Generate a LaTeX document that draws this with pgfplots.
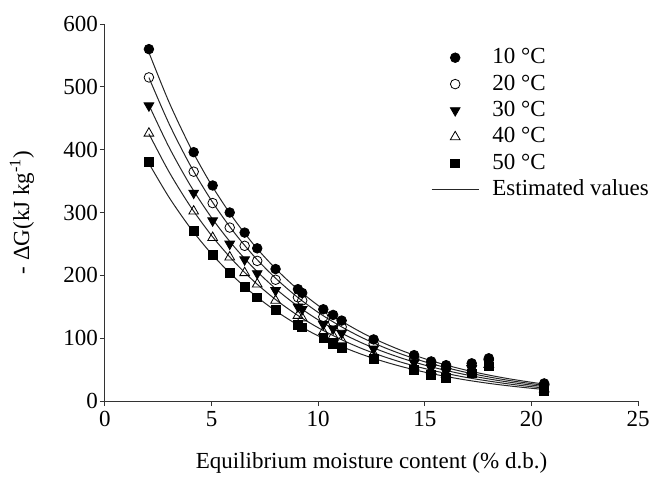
\documentclass[border=0pt]{standalone}
\usepackage{pgfplots}
\pgfplotsset{compat=1.18}
\usepackage{fontspec}
\setmainfont{Liberation Serif}

\newcommand{\chartfont}{\fontsize{11.5}{13.5}\selectfont}

% Gibbs free energy vs equilibrium moisture content
\pgfplotstableread{
x     t10  t20  t30  t40  t50
2.06  560  515  470  426  380
4.16  396  365  331  302  271
5.05  343  315  287  260  232
5.85  300  276  250  229  204
6.55  268  247  225  204  182
7.14  243  223  203  186  165
8.00  210  193  176  160  145
9.05  178  165  150  136  121
9.25  172  160  146  132  117
10.24 146  134  122  110  100
10.70 137  126  115  104   91
11.10 128  118  108   97   85
12.60  98   91   83   75   67
14.50  73   67   61   55   50
15.30  63   58   53   48   42
16.00  57   52   47   42   37
17.20  60   56   52   48   44
18.00  68   65   62   58   55
20.60  28   25   22   19   16
}\measured

% estimated (fitted) curves
\pgfplotstableread{
x     e10    e20    e30    e40    e50
2.06  554.7  514.7  471.1  425.3  378.1
3     475.9  441.6  404.2  364.9  324.4
4     404.3  375.1  343.3  310.0  275.6
5     343.5  318.7  291.7  263.3  234.1
6     291.9  270.8  247.9  223.8  199.0
7     247.9  230.0  210.6  190.1  169.0
8     210.7  195.5  178.9  161.5  143.6
9     178.9  166.0  152.0  137.2  122.0
10    152.0  141.0  129.1  116.6  103.6
11    129.2  119.9  109.7   99.1   88.1
12    109.7  101.8   93.2   84.1   74.8
13     93.3   86.5   79.2   71.5   63.6
14     79.2   73.5   67.3   60.7   54.0
15     67.3   62.4   57.1   51.6   45.9
16     57.2   53.1   48.6   43.9   39.0
17     48.6   45.1   41.3   37.2   33.1
18     41.3   38.3   35.1   31.7   28.1
19     35.1   32.5   29.8   26.9   23.9
20     29.8   27.6   25.3   22.8   20.3
20.6   27.0   25.1   22.9   20.7   18.4
}\estimated

\begin{document}
\begin{tikzpicture}
\useasboundingbox (-52.5pt,-41pt) rectangle (273.5pt,200.5pt);
\begin{axis}[
  at={(0,0)}, anchor=south west,
  scale only axis, width=266.5pt, height=188.5pt,
  xmin=0, xmax=25, ymin=0, ymax=600,
  axis x line*=bottom, axis y line*=left,
  axis line style={black!80, line width=0.5pt},
  xtick={0,5,...,25}, ytick={0,100,...,600},
  tick align=outside, major tick length=2.5pt,
  tick style={black!80, line width=0.5pt},
  /pgf/number format/assume math mode=true,
  tick label style={font=\chartfont},
  yticklabel style={xshift=2.5pt},
  xticklabel style={yshift=0.8pt},
  label style={font=\chartfont},
  xlabel={Equilibrium moisture content (\% d.b.)},
  ylabel={- ΔG(kJ kg\textsuperscript{-1})},
  xlabel style={at={(rel axis cs:0.5,0)}, anchor=center, yshift=-31pt},
  ylabel style={at={(rel axis cs:0,0.5)}, anchor=center, yshift=41.5pt},
  legend style={font=\chartfont, draw=none, fill=none,
    at={(0.600,0.952)}, anchor=north west, row sep=2pt,
    nodes={inner sep=0.6pt, text height=8pt, text depth=2pt},
    cells={anchor=west}},
  legend image code/.code={\draw[mark repeat=2,mark phase=2,#1]
    plot coordinates {(0pt,0pt)(11.75pt,0pt)(23.5pt,0pt)};
    \path (29.5pt,0pt);},
]
\foreach \c in {e10,e20,e30,e40,e50}{
  \addplot[smooth, no marks, black!85, line width=0.5pt, forget plot]
    table[x=x, y=\c] {\estimated};
}
\addplot[only marks, mark=*, mark size=2.4pt, black] table[x=x, y=t10] {\measured};
\addlegendentry{10 °C}
\addplot[only marks, mark=o, mark size=2.4pt, black, mark options={fill=white}] table[x=x, y=t20] {\measured};
\addlegendentry{20 °C}
\addplot[only marks, mark=triangle*, mark size=2.8pt, black, mark options={rotate=180}] table[x=x, y=t30] {\measured};
\addlegendentry{30 °C}
\addplot[only marks, mark=triangle, mark size=2.8pt, black, mark options={fill=white}] table[x=x, y=t40] {\measured};
\addlegendentry{40 °C}
\addplot[only marks, mark=square*, mark size=2.2pt, black] table[x=x, y=t50] {\measured};
\addlegendentry{50 °C}
\addlegendimage{black!85, line width=0.5pt}
\addlegendentry{Estimated values}
\end{axis}
\end{tikzpicture}
\end{document}
